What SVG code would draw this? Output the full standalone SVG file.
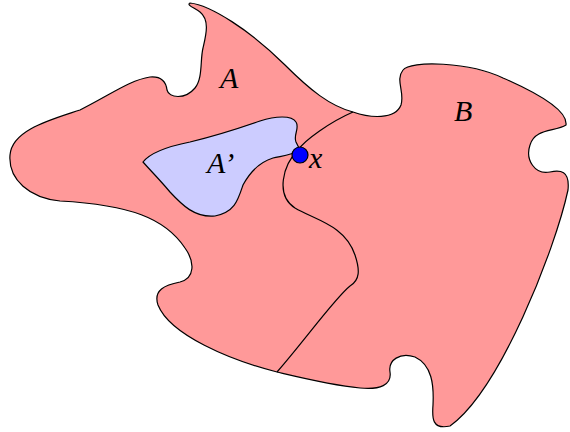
<svg xmlns="http://www.w3.org/2000/svg" width="570" height="432" viewBox="0 0 570 432">
<style>
.region{fill:#ff9999;stroke:#000;stroke-width:1.2}
.sub{fill:#ccccff;stroke:#000;stroke-width:1.2}
.div{fill:none;stroke:#000;stroke-width:1.2}
.lbl{font-family:"Liberation Serif",serif;font-style:italic;font-size:30px;fill:#000}
</style>
<g id="regionAB">
<path class="region" d="M190 3 C210 5 250 30 285 65 C310 90 330 106 353 112 C370 118 395 120 401 105 C405 92 395 80 403 70 C410 60 470 62 503 78 C535 92 568 110 566 125 C555 132 535 128 530 145 C525 160 535 175 550 172 C560 170 570 170 568 190 C555 250 500 390 450 426 C432 430 432 418 433 405 C434 385 432 365 415 357 C400 352 388 360 390 372 C392 385 380 390 360 388 C330 385 290 375 277 372 C230 360 170 335 158 305 C153 290 165 285 180 282 C195 278 195 262 185 248 C165 218 130 205 60 201 C30 198 8 180 10 155 C12 130 50 120 80 110 C110 95 130 80 150 77 C162 76 166 82 167 90 C169 98 185 100 195 88 C203 78 200 60 203 48 C206 35 210 20 200 12 C195 8 186 5 190 3 Z"/>
</g>
<g id="regionAprime">
<path class="sub" d="M143 162 C150 153 165 147 190 142 C215 136 240 128 260 121 C275 116 292 115 296 122 C300 128 293 135 296 142 L300 150 C290 156 280 156 273 158 C260 162 250 172 243 185 C238 200 235 212 215 216 C195 218 182 205 170 192 C160 180 150 170 143 162 Z"/>
</g>
<g id="connectors">
<path class="div" d="M353 112 C330 122 305 140 298 150 C283 165 275 195 295 208 C315 220 345 225 355 255 C360 270 360 280 350 286 C335 298 305 340 277 372"/>
</g>
<g id="pointX">
<circle cx="300" cy="155" r="8" fill="#0000ff" stroke="#000" stroke-width="1.2"/>
<text class="lbl" x="309" y="168">x</text>
</g>
<g id="labels">
<text class="lbl" x="220" y="88">A</text>
<text class="lbl" x="207" y="173">A’</text>
<text class="lbl" x="454" y="121">B</text>
</g>
</svg>
